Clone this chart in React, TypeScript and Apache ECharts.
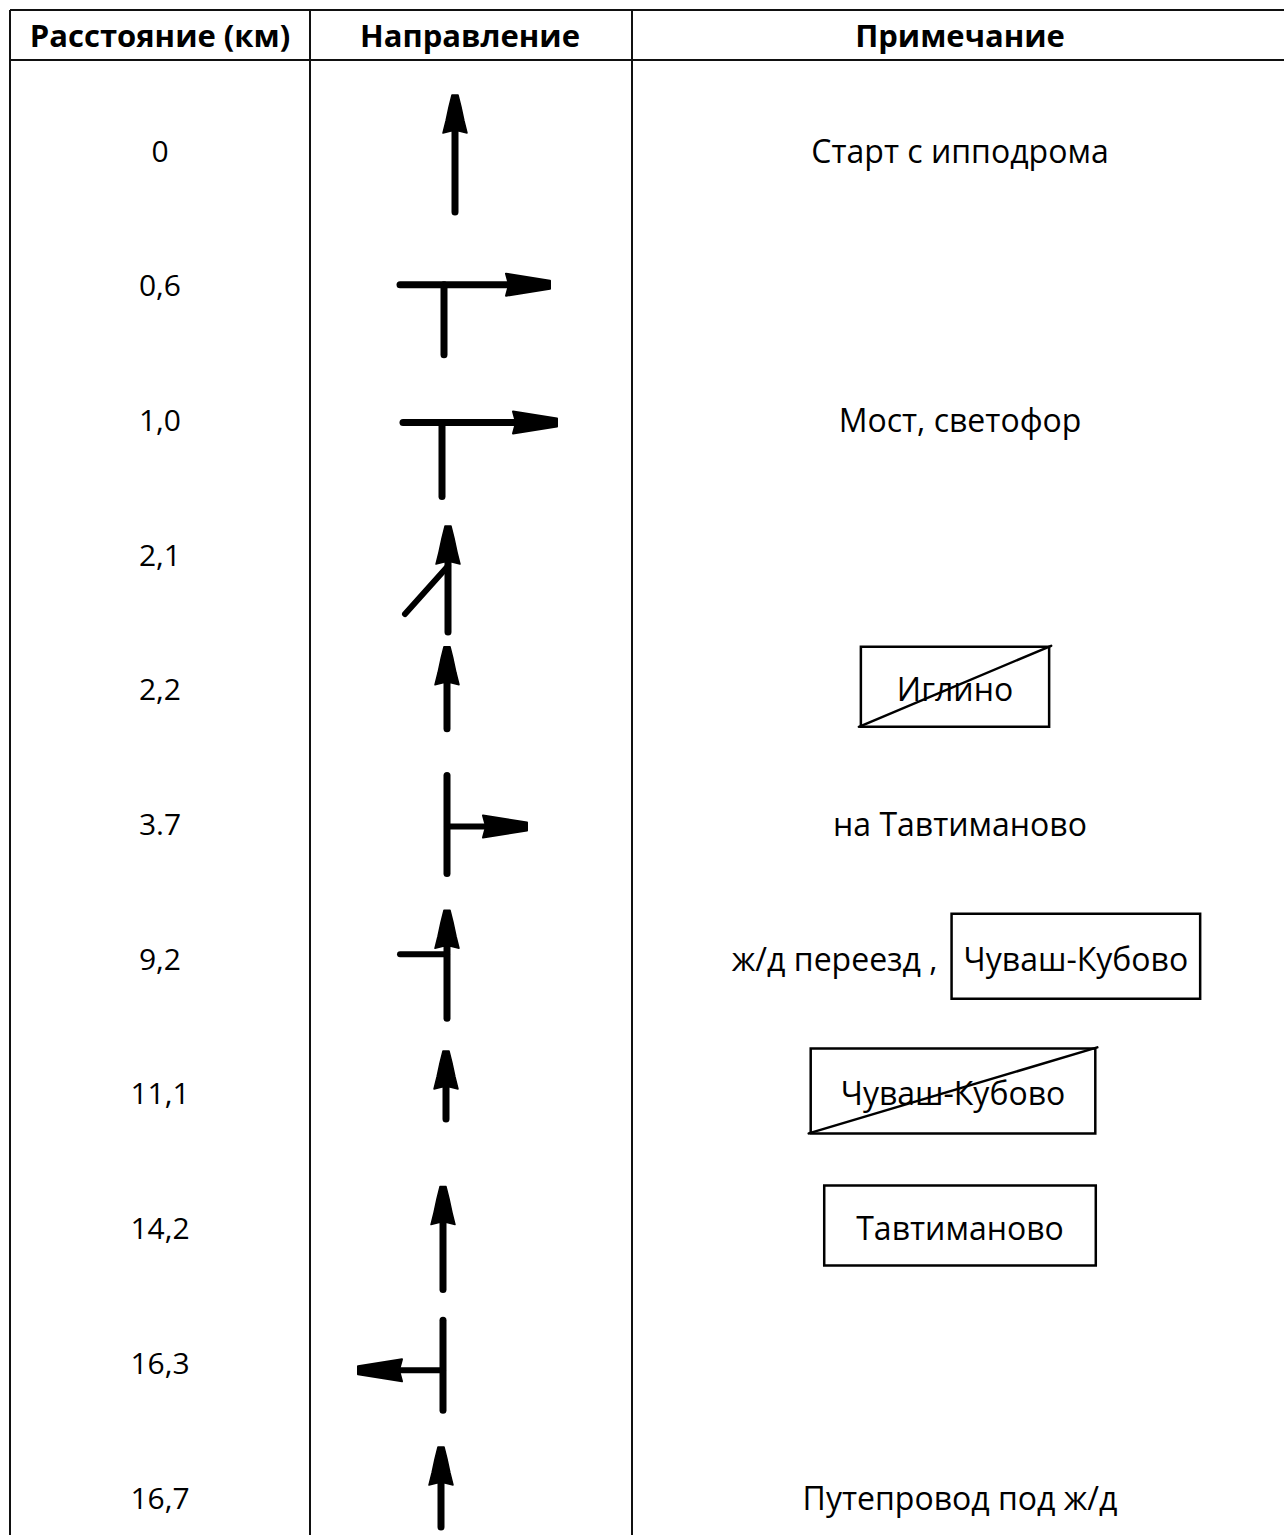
import React, { useEffect, useRef } from "react";
import * as echarts from "echarts";

// ---------- data ----------
const headers = ["Расстояние (км)", "Направление", "Примечание"];
const distances = ["0", "0,6", "1,0", "2,1", "2,2", "3.7", "9,2", "11,1", "14,2", "16,3", "16,7"];
const directions = [
  "straight",
  "rightT",
  "rightT",
  "straightBearLeft",
  "straight",
  "rightBranch",
  "straightLeftJoin",
  "straight",
  "straight",
  "leftBranch",
  "straight",
];
const notes = [
  "Старт с ипподрома",
  "",
  "Мост, светофор",
  "",
  "",
  "на Тавтиманово",
  "ж/д переезд ,",
  "",
  "",
  "",
  "Путепровод под ж/д",
];
const signs = ["", "", "", "", "Иглино", "", "Чуваш-Кубово", "Чуваш-Кубово", "Тавтиманово", "", ""];
const signKinds = ["", "", "", "", "exit", "", "entry", "exit", "entry", "", ""];

// ---------- drawing style / layout (not data) ----------
const W = 1284;
const H = 1535;
const FONT = "'Open Sans', 'Noto Sans', sans-serif";
const FS = 32;
const DFS = 30;
const HFS = 31;
const COL_X = [10, 310, 632];
const TOP_Y = 10;
const HEAD_Y = 60;
const DIST_X = 160;
const NOTE_X = 960;
// per-row glyph layout (relative to row centre)
const glyphLayout: any[] = [
  { x: 455, top: -55, bottom: 62 },
  { x: 444, barY: 0, barL: 400, barR: 550, bottom: 70 },
  { x: 442, barY: 3, barL: 403, barR: 557, bottom: 77 },
  { x: 448, top: -28, bottom: 78, diag: [405, 60, 448, 12] },
  { x: 447, top: -42, bottom: 40 },
  { x: 447, top: -48, bottom: 50, branchY: 3, branchX: 527 },
  { x: 447, top: -48, bottom: 60, branchY: -4, branchX: 400 },
  { x: 446, top: -42, bottom: 26 },
  { x: 443, top: -41, bottom: 62 },
  { x: 443, top: -42, bottom: 48, branchY: 8, branchX: 358 },
  { x: 441, top: -50, bottom: 30 },
];
const signLayout: any[] = [
  null, null, null, null,
  { padX: 36, h: 80, dx: -5 },
  null,
  { padX: 12, h: 85, inline: true, gap: 14, dx: 6 },
  { padX: 30, h: 85, dx: -7 },
  { padX: 32, h: 80, dx: 0 },
  null, null,
];

let measureCtx: CanvasRenderingContext2D | null = null;
function textWidth(t: string, size = FS, weight = "normal") {
  if (!measureCtx) measureCtx = document.createElement("canvas").getContext("2d");
  measureCtx!.font = `${weight} ${size}px ${FONT}`;
  return measureCtx!.measureText(t).width;
}

const INK = "#000";
function seg(x1: number, y1: number, x2: number, y2: number, w = 7) {
  return { type: "line", shape: { x1, y1, x2, y2 }, style: { stroke: INK, lineWidth: w, lineCap: "round" } };
}
function headUp(x: number, y: number) {
  return {
    type: "polygon",
    shape: {
      points: [
        [x - 3, y], [x + 3, y], [x + 6, y + 12], [x + 9, y + 26], [x + 12, y + 38], [x + 4, y + 36],
        [x - 4, y + 36], [x - 12, y + 38], [x - 9, y + 26], [x - 6, y + 12],
      ],
    },
    style: { fill: INK, stroke: INK, lineWidth: 1.5, lineJoin: "round" },
  };
}
function headSide(x: number, y: number, dir: number) {
  // tip at (x, y), pointing right if dir=1, left if -1
  const p = (dx: number, dy: number) => [x - dir * dx, y + dy];
  return {
    type: "polygon",
    shape: { points: [p(0, -4), p(0, 4), p(44, 11), p(41, 0), p(44, -11)] },
    style: { fill: INK, stroke: INK, lineWidth: 2, lineJoin: "round" },
  };
}

function renderRow(params: any, api: any) {
  const i = api.value(0);
  const cy = api.coord([0, i])[1];
  const px = (x: number) => api.coord([x, i])[0];
  const children: any[] = [];
  // distance
  children.push({
    type: "text",
    style: { x: px(DIST_X), y: cy, text: distances[i], font: `${DFS}px ${FONT}`, fill: INK, align: "center", verticalAlign: "middle" },
  });
  // glyph
  const g = glyphLayout[i];
  const gx = px(g.x);
  const kind = directions[i];
  if (kind === "straight" || kind === "straightBearLeft" || kind === "straightLeftJoin") {
    children.push(seg(gx, cy + g.bottom, gx, cy + g.top + 20));
    children.push(headUp(gx, cy + g.top));
    if (g.diag) children.push(seg(px(g.diag[0]), cy + g.diag[1], px(g.diag[2]), cy + g.diag[3], 6));
    if (kind === "straightLeftJoin") children.push(seg(px(g.branchX), cy + g.branchY, gx, cy + g.branchY, 6));
  } else if (kind === "rightT") {
    children.push(seg(px(g.barL), cy + g.barY, px(g.barR) - 30, cy + g.barY, 7));
    children.push(headSide(px(g.barR), cy + g.barY, 1));
    children.push(seg(gx, cy + g.barY, gx, cy + g.bottom, 7));
  } else if (kind === "rightBranch" || kind === "leftBranch") {
    const dir = kind === "rightBranch" ? 1 : -1;
    children.push(seg(gx, cy + g.top, gx, cy + g.bottom, 7));
    children.push(seg(gx, cy + g.branchY, px(g.branchX) - dir * 30, cy + g.branchY, 6));
    children.push(headSide(px(g.branchX), cy + g.branchY, dir));
  }
  // notes
  const note = notes[i];
  const sign = signs[i];
  const sl = signLayout[i];
  if (sign && sl) {
    const tw = textWidth(sign);
    const bw = tw + 2 * sl.padX;
    let left: number;
    if (sl.inline) {
      const nw = textWidth(note);
      const total = nw + sl.gap + bw;
      const start = px(NOTE_X) + sl.dx - total / 2;
      children.push({
        type: "text",
        style: { x: start, y: cy, text: note, font: `${FS}px ${FONT}`, fill: INK, align: "left", verticalAlign: "middle" },
      });
      left = start + nw + sl.gap;
    } else {
      left = px(NOTE_X) + sl.dx - bw / 2;
    }
    const top = cy - sl.h / 2 - 2;
    children.push({
      type: "rect",
      shape: { x: left, y: top, width: bw, height: sl.h },
      style: { fill: "none", stroke: INK, lineWidth: 2.5 },
    });
    children.push({
      type: "text",
      style: { x: left + bw / 2, y: cy, text: sign, font: `${FS}px ${FONT}`, fill: INK, align: "center", verticalAlign: "middle" },
    });
    if (signKinds[i] === "exit") {
      children.push(seg(left - 2, top + sl.h, left + bw + 2, top - 1, 2.5));
    }
  } else if (note) {
    children.push({
      type: "text",
      style: { x: px(NOTE_X), y: cy, text: note, font: `${FS}px ${FONT}`, fill: INK, align: "center", verticalAlign: "middle" },
    });
  }
  return { type: "group", children };
}

export default function App() {
  const ref = useRef<HTMLDivElement>(null);
  useEffect(() => {
    document.body.style.margin = "0";
    const chart = echarts.init(ref.current!, null, { renderer: "svg" });
    const rowH = (1497 - 150) / (distances.length - 1);
    const yMin = -(150 - HEAD_Y) / rowH;
    const yMax = (H - 150) / rowH;
    const lineStyle = { stroke: "#111", lineWidth: 2 };
    chart.setOption({
      animation: false,
      backgroundColor: "#fff",
      grid: { left: 0, right: 0, top: HEAD_Y, bottom: 0 },
      xAxis: { type: "value", min: 0, max: W, show: false },
      yAxis: { type: "value", min: yMin, max: yMax, inverse: true, show: false },
      series: [
        {
          type: "custom",
          renderItem: renderRow,
          data: distances.map((_, i) => [i]),
          encode: { y: 0 },
          clip: false,
        },
      ],
      graphic: [
        { type: "line", shape: { x1: COL_X[0], y1: TOP_Y, x2: W, y2: TOP_Y }, style: lineStyle },
        { type: "line", shape: { x1: COL_X[0], y1: HEAD_Y, x2: W, y2: HEAD_Y }, style: lineStyle },
        ...COL_X.map((x) => ({ type: "line", shape: { x1: x, y1: TOP_Y, x2: x, y2: H }, style: lineStyle })),
        ...headers.map((h, k) => ({
          type: "text",
          x: k === 0 ? 160 : k === 1 ? 470 : 960,
          y: 35,
          style: { text: h, font: `bold ${HFS}px ${FONT}`, fill: INK, align: "center", verticalAlign: "middle" },
        })),
      ],
    });
    return () => chart.dispose();
  }, []);
  return <div ref={ref} style={{ width: W, height: H }} />;
}
